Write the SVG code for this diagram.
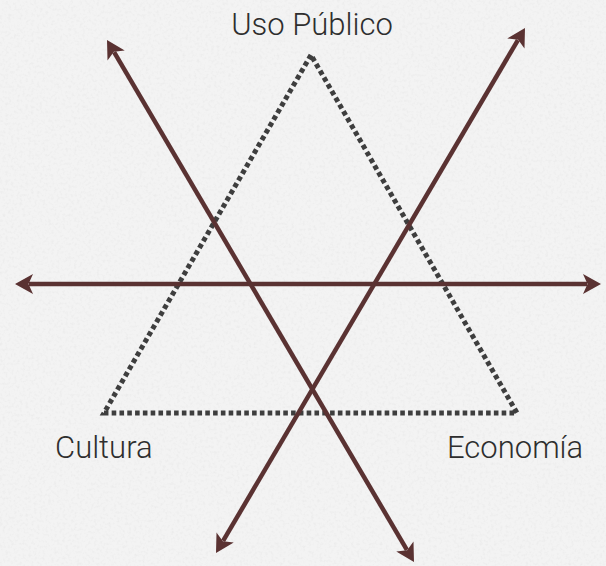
<svg xmlns="http://www.w3.org/2000/svg" width="606" height="566" viewBox="0 0 606 566">
<style>
.lbl{font-family:Roboto,"Liberation Sans",sans-serif;font-weight:300;font-size:31px;fill:#2e2e2e}
.arr{stroke:#5a3232;stroke-width:4.5;fill:none}
.tri{stroke:#3e3e3e;stroke-width:5;fill:none;stroke-dasharray:4.6 3.2}
</style>
<defs>
<filter id="tex" x="0" y="0" width="100%" height="100%">
<feTurbulence type="fractalNoise" baseFrequency="0.35" numOctaves="2" seed="3" result="n"/>
<feColorMatrix in="n" type="matrix" values="0 0 0 0 0.55  0 0 0 0 0.55  0 0 0 0 0.55  0 0 0 -1.4 0.75"/>
</filter>
<marker id="ah" markerUnits="userSpaceOnUse" markerWidth="40" markerHeight="40" viewBox="-20 -20 40 40" refX="0" refY="0" orient="auto-start-reverse">
<path d="M-4,-10 L14,0 L-4,10 L0.5,0 Z" fill="#5a3232"/>
</marker>
</defs>
<rect width="606" height="566" fill="#f3f3f3"/>
<rect width="606" height="566" filter="url(#tex)" opacity="0.25"/>
<g id="triangle">
<path class="tri" d="M311,55 L104,413 L517,413 Z"/>
</g>
<g id="connectors">
<line class="arr" x1="29" y1="284" x2="587" y2="284" marker-start="url(#ah)" marker-end="url(#ah)"/>
<line class="arr" x1="114.1" y1="52.1" x2="406.9" y2="549.9" marker-start="url(#ah)" marker-end="url(#ah)"/>
<line class="arr" x1="517.9" y1="40.1" x2="223.1" y2="540.9" marker-start="url(#ah)" marker-end="url(#ah)"/>
</g>
<g id="uso-publico"><text class="lbl" x="312" y="35" text-anchor="middle">Uso Público</text></g>
<g id="cultura"><text class="lbl" x="55" y="458">Cultura</text></g>
<g id="economia"><text class="lbl" x="447" y="458">Economía</text></g>
</svg>
